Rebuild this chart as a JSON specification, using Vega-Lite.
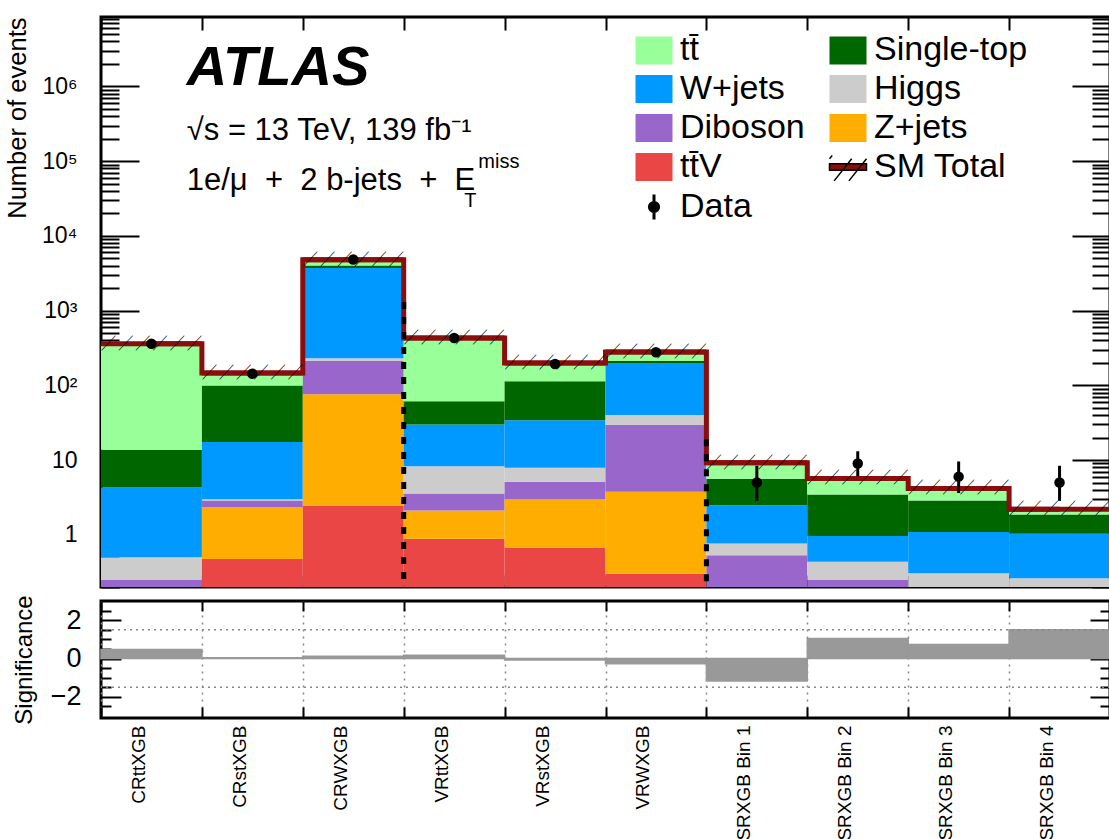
{
  "$schema": "https://vega.github.io/schema/vega-lite/v6.json",
  "padding": {"left": 4, "top": 14, "right": 0, "bottom": 0},
  "config": {
    "font": "Liberation Sans",
    "view": {"stroke": "black", "strokeWidth": 3},
    "axis": {"domain": false, "grid": false, "tickColor": "black", "tickWidth": 2, "labelColor": "black", "titleColor": "black", "titleFontWeight": "normal", "labelFont": "Liberation Sans", "titleFont": "Liberation Sans", "minExtent": 0, "labelOverlap": false, "labelBound": false}
  },
  "datasets": {
    "stack": [
      {"region": "CRttXGB", "process": "tt\u0304V", "n": 0.06},
      {"region": "CRttXGB", "process": "Z+jets", "n": 0.06},
      {"region": "CRttXGB", "process": "Diboson", "n": 0.128},
      {"region": "CRttXGB", "process": "Higgs", "n": 0.251},
      {"region": "CRttXGB", "process": "W+jets", "n": 3.8},
      {"region": "CRttXGB", "process": "Single-top", "n": 9.4},
      {"region": "CRttXGB", "process": "tt\u0304", "n": 346.5},
      {"region": "CRstXGB", "process": "tt\u0304V", "n": 0.473},
      {"region": "CRstXGB", "process": "Z+jets", "n": 1.877},
      {"region": "CRstXGB", "process": "Diboson", "n": 0.53},
      {"region": "CRstXGB", "process": "Higgs", "n": 0.11},
      {"region": "CRstXGB", "process": "W+jets", "n": 14.41},
      {"region": "CRstXGB", "process": "Single-top", "n": 82.0},
      {"region": "CRstXGB", "process": "tt\u0304", "n": 46.6},
      {"region": "CRWXGB", "process": "tt\u0304V", "n": 2.47},
      {"region": "CRWXGB", "process": "Z+jets", "n": 73.5},
      {"region": "CRWXGB", "process": "Diboson", "n": 136},
      {"region": "CRWXGB", "process": "Higgs", "n": 18},
      {"region": "CRWXGB", "process": "W+jets", "n": 3485},
      {"region": "CRWXGB", "process": "Single-top", "n": 285},
      {"region": "CRWXGB", "process": "tt\u0304", "n": 810},
      {"region": "VRttXGB", "process": "tt\u0304V", "n": 0.885},
      {"region": "VRttXGB", "process": "Z+jets", "n": 1.235},
      {"region": "VRttXGB", "process": "Diboson", "n": 1.45},
      {"region": "VRttXGB", "process": "Higgs", "n": 4.71},
      {"region": "VRttXGB", "process": "W+jets", "n": 21.62},
      {"region": "VRttXGB", "process": "Single-top", "n": 31.3},
      {"region": "VRttXGB", "process": "tt\u0304", "n": 368.8},
      {"region": "VRstXGB", "process": "tt\u0304V", "n": 0.678},
      {"region": "VRstXGB", "process": "Z+jets", "n": 2.292},
      {"region": "VRstXGB", "process": "Diboson", "n": 2.14},
      {"region": "VRstXGB", "process": "Higgs", "n": 2.76},
      {"region": "VRstXGB", "process": "W+jets", "n": 26.23},
      {"region": "VRstXGB", "process": "Single-top", "n": 78.9},
      {"region": "VRstXGB", "process": "tt\u0304", "n": 86},
      {"region": "VRWXGB", "process": "tt\u0304V", "n": 0.301},
      {"region": "VRWXGB", "process": "Z+jets", "n": 3.459},
      {"region": "VRWXGB", "process": "Diboson", "n": 25.84},
      {"region": "VRWXGB", "process": "Higgs", "n": 10.6},
      {"region": "VRWXGB", "process": "W+jets", "n": 158.8},
      {"region": "VRWXGB", "process": "Single-top", "n": 15},
      {"region": "VRWXGB", "process": "tt\u0304", "n": 66},
      {"region": "SRXGB Bin 1", "process": "tt\u0304V", "n": 0.03},
      {"region": "SRXGB Bin 1", "process": "Z+jets", "n": 0.03},
      {"region": "SRXGB Bin 1", "process": "Diboson", "n": 0.47},
      {"region": "SRXGB Bin 1", "process": "Higgs", "n": 0.237},
      {"region": "SRXGB Bin 1", "process": "W+jets", "n": 1.723},
      {"region": "SRXGB Bin 1", "process": "Single-top", "n": 3.11},
      {"region": "SRXGB Bin 1", "process": "tt\u0304", "n": 3.58},
      {"region": "SRXGB Bin 2", "process": "tt\u0304V", "n": 0.02},
      {"region": "SRXGB Bin 2", "process": "Z+jets", "n": 0.02},
      {"region": "SRXGB Bin 2", "process": "Diboson", "n": 0.208},
      {"region": "SRXGB Bin 2", "process": "Higgs", "n": 0.188},
      {"region": "SRXGB Bin 2", "process": "W+jets", "n": 0.524},
      {"region": "SRXGB Bin 2", "process": "Single-top", "n": 2.51},
      {"region": "SRXGB Bin 2", "process": "tt\u0304", "n": 2.2},
      {"region": "SRXGB Bin 3", "process": "tt\u0304V", "n": 0.01},
      {"region": "SRXGB Bin 3", "process": "Z+jets", "n": 0.01},
      {"region": "SRXGB Bin 3", "process": "Diboson", "n": 0.03},
      {"region": "SRXGB Bin 3", "process": "Higgs", "n": 0.255},
      {"region": "SRXGB Bin 3", "process": "W+jets", "n": 0.785},
      {"region": "SRXGB Bin 3", "process": "Single-top", "n": 1.79},
      {"region": "SRXGB Bin 3", "process": "tt\u0304", "n": 1.29},
      {"region": "SRXGB Bin 4", "process": "tt\u0304V", "n": 0.01},
      {"region": "SRXGB Bin 4", "process": "Z+jets", "n": 0.01},
      {"region": "SRXGB Bin 4", "process": "Diboson", "n": 0.03},
      {"region": "SRXGB Bin 4", "process": "Higgs", "n": 0.211},
      {"region": "SRXGB Bin 4", "process": "W+jets", "n": 0.769},
      {"region": "SRXGB Bin 4", "process": "Single-top", "n": 0.84},
      {"region": "SRXGB Bin 4", "process": "tt\u0304", "n": 0.32}
    ],
    "bins": [
      {"region": "CRttXGB", "total": 360, "data": 360, "lo": 341, "hi": 379, "sig": 0.47},
      {"region": "CRstXGB", "total": 146, "data": 143, "lo": 131, "hi": 155, "sig": 0.04},
      {"region": "CRWXGB", "total": 4810, "data": 4820, "lo": 4751, "hi": 4889, "sig": 0.12},
      {"region": "VRttXGB", "total": 430, "data": 430, "lo": 409, "hi": 451, "sig": 0.17},
      {"region": "VRstXGB", "total": 199, "data": 193, "lo": 179, "hi": 207, "sig": -0.07},
      {"region": "VRWXGB", "total": 280, "data": 277, "lo": 260, "hi": 294, "sig": -0.27},
      {"region": "SRXGB Bin 1", "total": 9.18, "data": 5, "lo": 2.84, "hi": 8.38, "sig": -1.17},
      {"region": "SRXGB Bin 2", "total": 5.67, "data": 9, "lo": 6.06, "hi": 13.11, "sig": 1.04},
      {"region": "SRXGB Bin 3", "total": 4.17, "data": 6, "lo": 3.62, "hi": 9.58, "sig": 0.73},
      {"region": "SRXGB Bin 4", "total": 2.19, "data": 5, "lo": 2.84, "hi": 8.38, "sig": 1.5}
    ],
    "separators": [
      {"region": "VRttXGB", "top": 1300},
      {"region": "SRXGB Bin 1", "top": 19}
    ],
    "levels": [
      {"level": -1.5},
      {"level": 1.5}
    ]
  },
  "spacing": 3,
  "vconcat": [
    {
      "width": 1009,
      "height": 570,
      "resolve": {"axis": {"x": "independent", "y": "independent"}},
      "layer": [
        {
          "data": {"name": "stack"},
          "transform": [{"stack": "n", "groupby": ["region"], "as": ["n0", "n1"]}],
          "mark": {"type": "bar", "clip": true},
          "encoding": {
            "x": {"field": "region", "type": "nominal",
              "scale": {"domain": ["CRttXGB", "CRstXGB", "CRWXGB", "VRttXGB", "VRstXGB", "VRWXGB", "SRXGB Bin 1", "SRXGB Bin 2", "SRXGB Bin 3", "SRXGB Bin 4"], "paddingInner": 0, "paddingOuter": 0},
              "axis": {"orient": "bottom", "tickBand": "extent", "tickSize": -12, "labels": false, "title": null, "maxExtent": 0}},
            "y": {"field": "n1", "type": "quantitative",
              "scale": {"type": "log", "domain": [0.2, 8500000], "clamp": true, "nice": false},
              "axis": {"orient": "left",
                "values": [0.2,0.3,0.4,0.5,0.6,0.7,0.8,0.9,1,2,3,4,5,6,7,8,9,10,20,30,40,50,60,70,80,90,100,200,300,400,500,600,700,800,900,1000,2000,3000,4000,5000,6000,7000,8000,9000,10000,20000,30000,40000,50000,60000,70000,80000,90000,100000,200000,300000,400000,500000,600000,700000,800000,900000,1000000,2000000,3000000,4000000,5000000,6000000,7000000,8000000],
                "tickSize": {"condition": {"test": "indexof([1,10,100,1000,10000,100000,1000000], datum.value) >= 0", "value": -38}, "value": -18},
                "labelExpr": "datum.value == 1 ? '1' : datum.value == 10 ? '10' : datum.value == 100 ? '10\u00b2' : datum.value == 1000 ? '10\u00b3' : datum.value == 10000 ? '10\u2074' : datum.value == 100000 ? '10\u2075' : datum.value == 1000000 ? '10\u2076' : ''",
                "labelFontSize": {"condition": {"test": "indexof([1,10,100,1000,10000,100000,1000000], datum.value) >= 0", "value": 23}, "value": 0},
                "labelPadding": 62,
                "title": "Number of events", "titleFontSize": 25.5, "titleAnchor": "end", "titlePadding": 11}},
            "y2": {"field": "n0"},
            "color": {"field": "process", "type": "nominal",
              "scale": {"domain": ["tt\u0304", "W+jets", "Diboson", "tt\u0304V", "Data", "Single-top", "Higgs", "Z+jets", "SM Total"],
                "range": ["#99ff99", "#0099ff", "#9966cc", "#ea4646", "#000000", "#006600", "#cccccc", "#ffad00", "#8b0e0e"]},
              "legend": {"orient": "none", "legendX": 536, "legendY": 16, "columns": 2, "title": null,
                "symbolType": "M-1,-0.76H1V0.76H-1Z", "symbolSize": 1369, "symbolStrokeWidth": 0,
                "labelFontSize": 34, "labelFont": "Liberation Sans", "labelColor": "black", "labelOffset": 9, "labelLimit": 400,
                "rowPadding": 3, "columnPadding": 21,
                "encode": {"symbols": {"update": {
                  "shape": {"signal": "datum.value === 'Data' ? 'M0,-0.68V0.68M-0.25,0A0.25,0.25 0 1,0 0.25,0A0.25,0.25 0 1,0 -0.25,0Z' : datum.value === 'SM Total' ? 'M-1,-0.17H1V0.17H-1ZM-0.75,0.75L0.2,-0.45M0.05,0.75L1,-0.45M-1,-0.45L-0.85,-0.62' : 'M-1,-0.76H1V0.76H-1Z'"},
                  "stroke": {"signal": "datum.value === 'Data' || datum.value === 'SM Total' ? 'black' : 'transparent'"},
                  "strokeWidth": {"signal": "datum.value === 'Data' ? 3 : 1.5"},
                  "opacity": {"value": 1}}}}}}
          }
        },
        {
          "data": {"name": "bins"},
          "mark": {"type": "bar", "fillOpacity": 0, "stroke": "#8b0e0e", "strokeWidth": 5, "clip": true},
          "encoding": {
            "x": {"field": "region", "type": "nominal",
              "axis": {"orient": "top", "tickBand": "extent", "tickSize": -13, "labels": false, "title": null, "maxExtent": 0}},
            "y": {"field": "total", "type": "quantitative",
              "axis": {"orient": "right",
                "values": [0.2,0.3,0.4,0.5,0.6,0.7,0.8,0.9,1,2,3,4,5,6,7,8,9,10,20,30,40,50,60,70,80,90,100,200,300,400,500,600,700,800,900,1000,2000,3000,4000,5000,6000,7000,8000,9000,10000,20000,30000,40000,50000,60000,70000,80000,90000,100000,200000,300000,400000,500000,600000,700000,800000,900000,1000000,2000000,3000000,4000000,5000000,6000000,7000000,8000000],
                "tickSize": {"condition": {"test": "indexof([1,10,100,1000,10000,100000,1000000], datum.value) >= 0", "value": -38}, "value": -18},
                "labels": false, "title": null, "maxExtent": 0}},
            "y2": {"field": "total"}
          }
        },
        {
          "data": {"name": "bins"},
          "mark": {"type": "line", "interpolate": "step", "stroke": "#8b0e0e", "strokeWidth": 5, "clip": true},
          "encoding": {
            "x": {"field": "region", "type": "nominal", "bandPosition": 0.5, "axis": null},
            "y": {"field": "total", "type": "quantitative", "axis": null}
          }
        },
        {
          "data": {"name": "bins"},
          "mark": {"type": "text", "font": "Noto Sans CJK SC", "fontSize": 14, "fontWeight": "bold", "align": "center", "baseline": "middle", "color": "black", "text": "\u2571 \u2571 \u2571 \u2571 \u2571 \u2571"},
          "encoding": {
            "x": {"field": "region", "type": "nominal", "bandPosition": 0.5, "axis": null},
            "y": {"field": "total", "type": "quantitative", "axis": null}
          }
        },
        {
          "data": {"name": "separators"},
          "mark": {"type": "rule", "color": "black", "strokeWidth": 5, "strokeDash": [7, 8], "clip": true},
          "encoding": {
            "x": {"field": "region", "type": "nominal", "bandPosition": 0, "axis": null},
            "y": {"field": "top", "type": "quantitative", "axis": null},
            "y2": {"datum": 0.2}
          }
        },
        {
          "data": {"name": "bins"},
          "mark": {"type": "rule", "color": "black", "strokeWidth": 3},
          "encoding": {
            "x": {"field": "region", "type": "nominal", "bandPosition": 0.5, "axis": null},
            "y": {"field": "lo", "type": "quantitative", "axis": null},
            "y2": {"field": "hi"}
          }
        },
        {
          "data": {"name": "bins"},
          "mark": {"type": "point", "filled": true, "size": 110, "color": "black", "opacity": 1},
          "encoding": {
            "x": {"field": "region", "type": "nominal", "bandPosition": 0.5, "axis": null},
            "y": {"field": "data", "type": "quantitative", "axis": null}
          }
        },
        {
          "data": {"values": [{"region": "CRttXGB", "y": 1050000, "label": "ATLAS"}]},
          "mark": {"type": "text", "font": "Liberation Sans", "fontSize": 56, "fontWeight": "bold", "fontStyle": "italic", "align": "left", "baseline": "alphabetic", "color": "black"},
          "encoding": {
            "x": {"field": "region", "type": "nominal", "bandPosition": 0.85, "axis": null},
            "y": {"field": "y", "type": "quantitative", "axis": null},
            "text": {"field": "label"}
          }
        },
        {
          "data": {"values": [
            {"region": "CRttXGB", "y": 193000, "label": "\u221as = 13 TeV, 139 fb\u207b\u00b9"},
            {"region": "CRttXGB", "y": 41500, "label": "1e/\u03bc \u00a0+\u00a0 2 b-jets \u00a0+\u00a0 E"}
          ]},
          "mark": {"type": "text", "font": "Liberation Sans", "fontSize": 31, "align": "left", "baseline": "alphabetic", "color": "black"},
          "encoding": {
            "x": {"field": "region", "type": "nominal", "bandPosition": 0.85, "axis": null},
            "y": {"field": "y", "type": "quantitative", "axis": null},
            "text": {"field": "label"}
          }
        },
        {
          "data": {"values": [{"region": "VRttXGB", "y": 82000, "label": "miss"}]},
          "mark": {"type": "text", "font": "Liberation Sans", "fontSize": 20, "align": "left", "baseline": "alphabetic", "color": "black"},
          "encoding": {
            "x": {"field": "region", "type": "nominal", "bandPosition": 0.74, "axis": null},
            "y": {"field": "y", "type": "quantitative", "axis": null},
            "text": {"field": "label"}
          }
        },
        {
          "data": {"values": [{"region": "VRttXGB", "y": 24000, "label": "T"}]},
          "mark": {"type": "text", "font": "Liberation Sans", "fontSize": 20, "align": "left", "baseline": "alphabetic", "color": "black"},
          "encoding": {
            "x": {"field": "region", "type": "nominal", "bandPosition": 0.6, "axis": null},
            "y": {"field": "y", "type": "quantitative", "axis": null},
            "text": {"field": "label"}
          }
        }
      ]
    },
    {
      "width": 1009,
      "height": 117,
      "resolve": {"axis": {"x": "independent", "y": "independent"}},
      "layer": [
        {
          "data": {"name": "bins"},
          "mark": {"type": "bar", "color": "#999999", "stroke": "#999999", "strokeWidth": 1.5},
          "encoding": {
            "x": {"field": "region", "type": "nominal",
              "scale": {"domain": ["CRttXGB", "CRstXGB", "CRWXGB", "VRttXGB", "VRstXGB", "VRWXGB", "SRXGB Bin 1", "SRXGB Bin 2", "SRXGB Bin 3", "SRXGB Bin 4"], "paddingInner": 0, "paddingOuter": 0},
              "axis": {"orient": "bottom", "tickBand": "extent", "tickSize": -11, "labelAngle": -90, "labelAlign": "right", "labelBaseline": "bottom", "labelFontSize": 19, "labelPadding": 18, "labelOffset": -3, "title": null,
                "grid": true, "gridDash": [2, 5], "gridColor": "#888888", "gridWidth": 1.5}},
            "y": {"field": "sig", "type": "quantitative",
              "scale": {"domain": [-3.1, 3], "nice": false},
              "axis": {"orient": "left", "values": [-2.5,-2,-1.5,-1,-0.5,0,0.5,1,1.5,2,2.5],
                "tickSize": {"condition": {"test": "abs(datum.value) == 2 || datum.value == 0", "value": -20}, "value": -10},
                "labelExpr": "datum.value == 2 ? '2' : datum.value == 0 ? '0' : datum.value == -2 ? '\u22122' : ''",
                "labelFontSize": {"condition": {"test": "abs(datum.value) == 2 || datum.value == 0", "value": 27}, "value": 0},
                "labelPadding": 40,
                "title": "Significance", "titleFontSize": 24, "titlePadding": 14}}
          }
        },
        {
          "data": {"name": "bins"},
          "mark": {"type": "bar", "opacity": 0},
          "encoding": {
            "x": {"field": "region", "type": "nominal",
              "axis": {"orient": "top", "tickBand": "extent", "tickSize": -10, "labels": false, "title": null, "maxExtent": 0}},
            "y": {"field": "sig", "type": "quantitative",
              "axis": {"orient": "right", "values": [-2.5,-2,-1.5,-1,-0.5,0,0.5,1,1.5,2,2.5],
                "tickSize": {"condition": {"test": "abs(datum.value) == 2 || datum.value == 0", "value": -20}, "value": -10},
                "labels": false, "title": null, "maxExtent": 0}}
          }
        },
        {
          "data": {"name": "levels"},
          "mark": {"type": "rule", "color": "#888888", "strokeWidth": 1.5, "strokeDash": [2, 4]},
          "encoding": {
            "y": {"field": "level", "type": "quantitative", "axis": null}
          }
        }
      ]
    }
  ]
}
